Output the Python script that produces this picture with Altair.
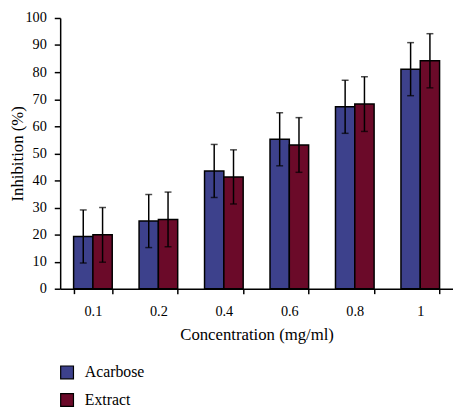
import altair as alt
import pandas as pd

concentrations = ["0.1", "0.2", "0.4", "0.6", "0.8", "1"]
acarbose = [19.3, 25.0, 43.5, 55.2, 67.2, 81.1]
extract = [19.9, 25.6, 41.3, 53.1, 68.2, 84.2]
acarbose_err = [9.8, 9.8, 9.8, 9.8, 9.8, 9.8]
extract_err = [10.1, 10.1, 10.0, 10.1, 10.1, 10.0]
series_names = ["Acarbose", "Extract"]
colors = ["#3D418C", "#6B0A29"]
y_ticks = [0, 10, 20, 30, 40, 50, 60, 70, 80, 90, 100]

rows = []
for i, c in enumerate(concentrations):
    rows.append({"conc": c, "series": "Acarbose", "value": acarbose[i], "err": acarbose_err[i]})
    rows.append({"conc": c, "series": "Extract", "value": extract[i], "err": extract_err[i]})
df = pd.DataFrame(rows)
df["lo"] = df["value"] - df["err"]
df["hi"] = df["value"] + df["err"]

FONT = "Liberation Serif"

x_axis = alt.Axis(
    labelAngle=0, tickBand="extent", tickSize=5, labelPadding=11,
    titlePadding=9, domainColor="black", tickColor="black",
    labelFontSize=14.5, titleFontSize=17, labelColor="black", titleColor="black",
    titleFontWeight="normal",
)
y_axis = alt.Axis(
    values=y_ticks, grid=False, tickSize=6, labelPadding=8,
    labelOverlap=False, domainColor="black", tickColor="black",
    labelFontSize=14.5, titleFontSize=17,
    labelColor="black", titleColor="black", titleFontWeight="normal",
    titleX=-34,
)
x_scale = alt.Scale(paddingInner=0.41, paddingOuter=0.205)
y_scale = alt.Scale(domain=[0, 100], nice=False)
X_TITLE = "Concentration (mg/ml)"
Y_TITLE = "Inhibition (%)"

def xe():
    return alt.X("conc:N", sort=concentrations, title=X_TITLE, scale=x_scale, axis=x_axis)

def ye(field):
    return alt.Y(field, title=Y_TITLE, scale=y_scale, axis=y_axis)

xo_enc = alt.XOffset("series:N", sort=series_names, scale=alt.Scale(paddingInner=0, paddingOuter=0))

base = alt.Chart(df)

bars = base.mark_bar(stroke="black", strokeWidth=1.5).encode(
    x=xe(),
    xOffset=xo_enc,
    y=ye("value:Q"),
    color=alt.Color(
        "series:N",
        sort=series_names,
        scale=alt.Scale(domain=series_names, range=colors),
        legend=alt.Legend(
            title=None, orient="none", legendX=-1, legendY=352, direction="vertical",
            symbolType="square", symbolSize=169, symbolStrokeColor="black",
            symbolStrokeWidth=1.2, labelFontSize=16, labelColor="black",
            rowPadding=10, labelOffset=10, padding=0,
        ),
    ),
)

rules = base.mark_rule(color="black", strokeWidth=1.5).encode(
    x=xe(),
    xOffset=xo_enc,
    y=ye("lo:Q"),
    y2="hi:Q",
)

caps_hi = base.mark_tick(color="black", thickness=1.5, size=7).encode(
    x=xe(),
    xOffset=xo_enc,
    y=ye("hi:Q"),
)
caps_lo = base.mark_tick(color="black", thickness=1.5, size=7).encode(
    x=xe(),
    xOffset=xo_enc,
    y=ye("lo:Q"),
)

chart = (
    alt.layer(bars, rules, caps_hi, caps_lo)
    .properties(
        width=399,
        height=275,
        autosize=alt.AutoSizeParams(type="none"),
        padding={"left": 53, "top": 7, "right": 0, "bottom": 118},
    )
    .configure(font=FONT)
    .configure_view(stroke=None)
    .configure_axis(domainWidth=1.5, tickWidth=1.5)
)

chart.save("out.html", embed_options={"renderer": "svg", "actions": False})
